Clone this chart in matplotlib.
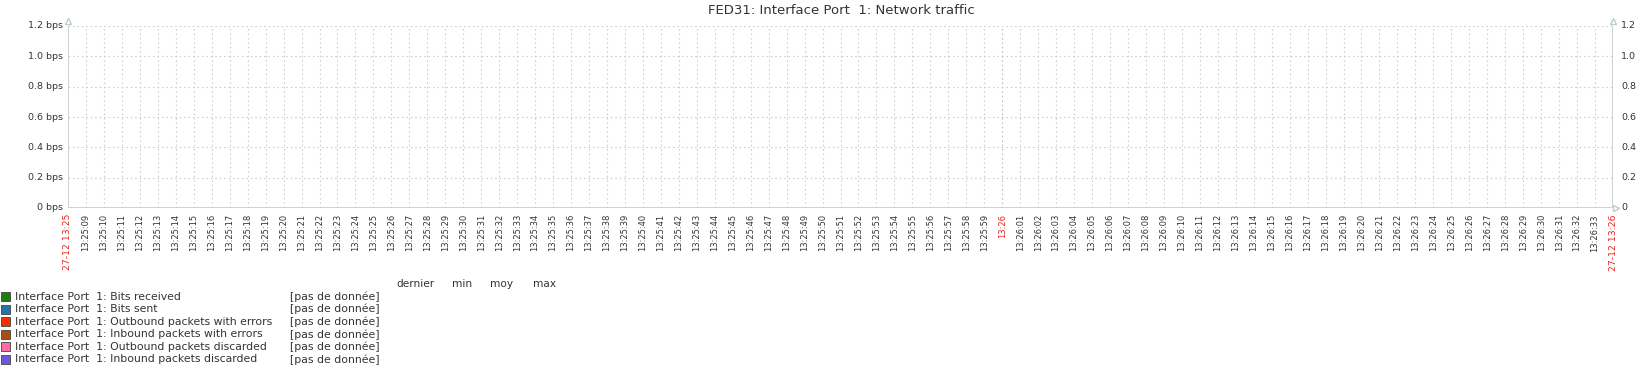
import matplotlib.pyplot as plt
from matplotlib.patches import Rectangle

# Graph settings (Zabbix style, empty graph)
title = "FED31: Interface Port  1: Network traffic"
y_ticks = [0, 0.2, 0.4, 0.6, 0.8, 1.0, 1.2]
y_left_labels = ["0 bps", "0.2 bps", "0.4 bps", "0.6 bps", "0.8 bps", "1.0 bps", "1.2 bps"]
y_right_labels = ["0", "0.2", "0.4", "0.6", "0.8", "1.0", "1.2"]

# time range in seconds after 13:25:00
t_start = 8
t_end = 94
tick_seconds = list(range(9, 94))
edge_labels = ["27-12 13:25", "27-12 13:26"]

series_names = [
    "Interface Port  1: Bits received",
    "Interface Port  1: Bits sent",
    "Interface Port  1: Outbound packets with errors",
    "Interface Port  1: Inbound packets with errors",
    "Interface Port  1: Outbound packets discarded",
    "Interface Port  1: Inbound packets discarded",
]
series_colors = ["#1A7C11", "#2774A4", "#F63100", "#A54F10", "#FC6EA3", "#6C59DC"]
legend_columns = ["dernier", "min", "moy", "max"]
no_data = "[pas de donnée]"

W, H = 1648, 372
fig = plt.figure(figsize=(W / 100, H / 100), dpi=100)
left, right, top, bottom = 68, 1613, 26, 208
ax = fig.add_axes([left / W, 1 - bottom / H, (right - left) / W, (bottom - top) / H])

ax.set_xlim(t_start, t_end)
ax.set_ylim(0, 1.2)
for s in ax.spines.values():
    s.set_visible(False)
ax.tick_params(length=0)
ax.set_xticks([])
ax.set_yticks([])

axis_color = "#bfcbd1"
grid_color = "#cfcfcf"
text_color = "#333333"
red = "#e8251e"

# grid
for y in y_ticks[1:]:
    ax.axhline(y, color=grid_color, lw=0.8, ls=(0, (1.5, 2.5)), zorder=1)
for s in tick_seconds:
    c = "#b0c4cc" if s == 60 else grid_color
    ax.axvline(s, color=c, lw=0.8, ls=(0, (1.5, 2.5)), zorder=1)

# axis lines
ax.axvline(t_start, color=axis_color, lw=1.2, zorder=3)
ax.axvline(t_end, color=axis_color, lw=1.2, zorder=3)
ax.axhline(0, color=axis_color, lw=1.2, zorder=3)
ax.plot([t_start, t_end], [1.23, 1.23], ls="none", marker="^", ms=4,
        mfc="white", mec=axis_color, clip_on=False, zorder=4)
ax.plot([t_end + 0.15], [0], ls="none", marker=">", ms=4,
        mfc="white", mec=axis_color, clip_on=False, zorder=4)

# y labels
for y, lab_l, lab_r in zip(y_ticks, y_left_labels, y_right_labels):
    ax.text(t_start - 0.3, y, lab_l, ha="right", va="center", fontsize=6.8, color=text_color)
    ax.text(t_end + 0.45, y, lab_r, ha="left", va="center", fontsize=6.8, color=text_color)

# x labels
for s in tick_seconds:
    if s == 60:
        lab, col = "13:26", red
    else:
        lab, col = "13:%02d:%02d" % (25 + s // 60, s % 60), text_color
    ax.text(s, -0.04, lab, rotation=90, ha="center", va="top", fontsize=6.0, color=col)
ax.text(t_start, -0.04, edge_labels[0], rotation=90, ha="center", va="top", fontsize=6.7, color=red)
ax.text(t_end, -0.04, edge_labels[1], rotation=90, ha="center", va="top", fontsize=6.7, color=red)

fig.text(841 / W, 1 - 11 / H, title, ha="center", va="center", fontsize=9.5, color=text_color)

# legend
for x, lab in zip([415, 462, 502, 545], legend_columns):
    fig.text(x / W, 1 - 284 / H, lab, ha="center", va="center", fontsize=7.6, color=text_color)
for i, (name, col) in enumerate(zip(series_names, series_colors)):
    yc = 296.5 + 12.6 * i
    fig.patches.append(Rectangle((1 / W, 1 - (yc + 4.5) / H), 9 / W, 9 / H,
                                 transform=fig.transFigure, fc=col, ec="#444444", lw=0.6))
    fig.text(15 / W, 1 - yc / H, name, ha="left", va="center", fontsize=7.8, color=text_color)
    fig.text(290 / W, 1 - yc / H, no_data, ha="left", va="center", fontsize=7.8, color=text_color)

fig.savefig("out.png", dpi=100, facecolor="white")
